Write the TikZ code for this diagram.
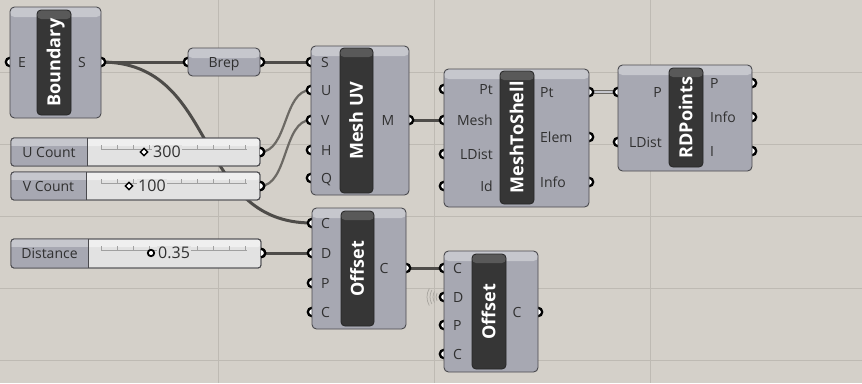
\documentclass[tikz,border=0pt]{standalone}
\usepackage{fontspec}
\newfontfamily\ghfont{Open Sans}
\usetikzlibrary{fit}
\definecolor{canvas}{HTML}{D4D0C9}
\definecolor{gridc}{HTML}{BEBAB3}
\definecolor{body}{HTML}{A7A8B2}
\definecolor{bodytop}{HTML}{C6C7CD}
\definecolor{boxline}{HTML}{4A4A4E}
\definecolor{barc}{HTML}{363636}
\definecolor{bartop}{HTML}{595959}
\definecolor{wirec}{HTML}{4E4C49}
\definecolor{wirel}{HTML}{6C6964}
\definecolor{sliderbody}{HTML}{E2E2E2}
\definecolor{tickc}{HTML}{A0A0A0}
\definecolor{ripplec}{HTML}{A8A59F}
\definecolor{lblc}{HTML}{303030}
\tikzset{
  compbox/.style={draw=boxline, line width=0.9pt, fill=body, rounded corners=4.5pt, inner sep=0pt,
    path picture={\fill[bodytop] (path picture bounding box.north west) rectangle ([yshift=-10pt]path picture bounding box.north east);}},
  sliderbox/.style={draw=boxline, line width=0.9pt, fill=sliderbody, rounded corners=3pt, inner sep=0pt,
    path picture={\fill[white,opacity=0.45] (path picture bounding box.north west) rectangle ([yshift=-8pt]path picture bounding box.north east);}},
  barbox/.style={draw=black!85, line width=0.8pt, fill=barc, rounded corners=4pt, inner sep=0pt,
    path picture={\fill[bartop] (path picture bounding box.north west) rectangle ([yshift=-9pt]path picture bounding box.north east);}},
  bartext/.style={font=\ghfont\bfseries\fontsize{18}{18}\selectfont, text=white, inner sep=0pt, text height=12.9pt, text depth=0pt},
  lbl/.style={font=\ghfont\fontsize{14}{14}\selectfont, text=lblc, inner sep=0pt, text height=10pt, text depth=0pt},
  valtext/.style={font=\ghfont\fontsize{16}{16}\selectfont, text=lblc, inner sep=1pt, text height=11.4pt, text depth=0pt, fill=sliderbody},
  port/.style={draw=black, fill=white, line width=2.3pt},
  wire/.style={draw=wirec, line width=3pt},
  wirethin/.style={draw=wirel, line width=2.2pt},
  wiredouble/.style={draw=wirel, line width=1.3pt, double=bodytop, double distance=1.6pt},
  track/.style={draw=tickc, line width=0.6pt},
  ripple/.style={draw=ripplec, line width=0.7pt}
}
\newcommand\ghbar[6]{%
  \node[barbox, fit={(#2,#3)(#4,#5)}] (#1) {};
  \node[bartext, rotate=90] at (#1.center) {#6};}
\newcommand\ghslider[7]{% name y1 y2 xlab label x2 ymid
  \node[sliderbox, fit={(11,#2)(#6,#3)}] (#1) {};
  \begin{scope}
    \clip[rounded corners=3pt] (11,#2) rectangle (#6,#3);
    \fill[body] (11,#2) rectangle (#4,#3);
    \fill[bodytop] (11,#2) rectangle (#4,#2+8);
  \end{scope}
  \draw[boxline, line width=0.9pt, rounded corners=3pt] (11,#2) rectangle (#6,#3);
  \draw[boxline, line width=0.8pt] (#4,#2) -- (#4,#3);
  \node[lbl] (#1-lbl) at ({(11+#4)/2},#7) {#5};
  \draw[track] (101,#7-3) -- (247,#7-3);
  \foreach \t in {101,117,...,247} \draw[track] (\t,#7-3) -- (\t,#7-7);}
\begin{document}
\begin{tikzpicture}[x=1pt,y=-1pt]
\fill[canvas] (0,0) rectangle (862,383);
\useasboundingbox (0,0) rectangle (862,383);
% grid
\foreach \y in {72,144,216,288,360} \draw[gridc, line width=1pt] (0,\y) -- (862,\y);
\foreach \x in {218,434,650} \draw[gridc, line width=1pt] (\x,0) -- (\x,383);
% port coordinates
\coordinate (bd-E) at (10,62); \coordinate (bd-S) at (101,62);
\coordinate (br-in) at (188,62); \coordinate (br-out) at (260,62);
\coordinate (mu-S) at (311,62); \coordinate (mu-U) at (311,90); \coordinate (mu-V) at (311,120);
\coordinate (mu-H) at (311,150); \coordinate (mu-Q) at (311,178); \coordinate (mu-M) at (409,120);
\coordinate (ms-Pt) at (444,89); \coordinate (ms-Mesh) at (444,120); \coordinate (ms-LDist) at (444,154);
\coordinate (ms-Id) at (444,186); \coordinate (ms-oPt) at (589,92); \coordinate (ms-Elem) at (589,137);
\coordinate (ms-Info) at (589,182);
\coordinate (rd-P) at (618,92); \coordinate (rd-LDist) at (618,142); \coordinate (rd-oP) at (752,83);
\coordinate (rd-Info) at (752,117); \coordinate (rd-I) at (752,151);
\coordinate (o1-C) at (312,223); \coordinate (o1-D) at (312,253); \coordinate (o1-P) at (312,283);
\coordinate (o1-C2) at (312,312); \coordinate (o1-out) at (406,268);
\coordinate (o2-C) at (444,268); \coordinate (o2-D) at (444,297); \coordinate (o2-P) at (444,325);
\coordinate (o2-C2) at (444,354); \coordinate (o2-out) at (538,312);
\coordinate (uc-out) at (260,152); \coordinate (vc-out) at (260,186); \coordinate (ds-out) at (261,253);
% wires
\draw[wire] (bd-S) .. controls +(120,0) and +(-120,0) .. (o1-C);
\draw[wire] (bd-S) -- (br-in);
\draw[wire] (br-out) -- (mu-S);
\draw[wirethin] (uc-out) .. controls +(28,0) and +(-28,0) .. (mu-U);
\draw[wirethin] (vc-out) .. controls +(28,0) and +(-28,0) .. (mu-V);
\draw[wire] (mu-M) -- (ms-Mesh);
\draw[wiredouble] (ms-oPt) -- (rd-P);
\draw[wire] (ds-out) -- (o1-D);
\draw[wire] (o1-out) -- (o2-C);
% ripple
\foreach \r in {8,11,14,17} \draw[ripple] ([shift={(150:\r pt)}]o2-D) arc[start angle=150,end angle=210,radius=\r pt];
% ports
\foreach \p in {bd-E,bd-S,br-in,br-out,mu-S,mu-U,mu-V,mu-H,mu-Q,mu-M,ms-Pt,ms-Mesh,ms-LDist,ms-Id,ms-oPt,ms-Elem,ms-Info,rd-P,rd-LDist,rd-oP,rd-Info,rd-I,o1-C,o1-D,o1-P,o1-C2,o1-out,o2-C,o2-D,o2-P,o2-C2,o2-out,uc-out,vc-out,ds-out}
  \draw[port] (\p) circle[radius=4.2pt];
% Boundary
\node[compbox, fit={(10,7)(101,118)}] (boundary) {};
\ghbar{boundary-bar}{37}{10}{71}{115}{Boundary}
\node[lbl] at (22,62) {E};
\node[lbl] at (82,62) {S};
% Brep
\node[compbox, fit={(188,48)(260,76)}] (brep) {};
\node[lbl] at (brep.center) {Brep};
% Mesh UV
\node[compbox, fit={(311,46)(409,195)}] (meshuv) {};
\ghbar{meshuv-bar}{340}{48}{373}{193}{Mesh UV}
\foreach \l/\y in {S/62,U/90,V/120,H/150,Q/178} \node[lbl, anchor=west] at (321,\y) {\l};
\node[lbl] at (388,120) {M};
% MeshToShell
\node[compbox, fit={(444,69)(589,207)}] (m2s) {};
\ghbar{m2s-bar}{500}{71}{534}{204}{MeshToShell}
\foreach \l/\y in {Pt/89,Mesh/120,LDist/154,Id/186} \node[lbl, anchor=east] at (493,\y) {\l};
\foreach \l/\y in {Pt/92,Elem/137,Info/182} \node[lbl, anchor=west] at (540,\y) {\l};
% RDPoints
\node[compbox, fit={(618,65)(752,171)}] (rdp) {};
\ghbar{rdp-bar}{669}{68}{703}{167}{RDPoints}
\foreach \l/\y in {P/92,LDist/142} \node[lbl, anchor=east] at (662,\y) {\l};
\foreach \l/\y in {P/83,Info/117,I/151} \node[lbl, anchor=west] at (710,\y) {\l};
% Offset 1
\node[compbox, fit={(312,208)(406,329)}] (off1) {};
\ghbar{off1-bar}{341}{211}{374}{326}{Offset}
\foreach \l/\y in {C/223,D/253,P/283,C/312} \node[lbl, anchor=west] at (321,\y) {\l};
\node[lbl] at (384,268) {C};
% Offset 2
\node[compbox, fit={(444,251)(538,372)}] (off2) {};
\ghbar{off2-bar}{472}{254}{506}{369}{Offset}
\foreach \l/\y in {C/268,D/297,P/325,C/354} \node[lbl, anchor=west] at (453,\y) {\l};
\node[lbl] at (517,312) {C};
% sliders
\ghslider{ucount}{138}{166}{87}{U Count}{260}{152}
\node[valtext, anchor=west] (ucount-val) at (152,152) {300};
\draw[line width=1.4pt, fill=white] (144,152) +(-3.6,0) -- +(0,-3.6) -- +(3.6,0) -- +(0,3.6) -- cycle;
\ghslider{vcount}{172}{200}{86}{V Count}{260}{186}
\node[valtext, anchor=west] (vcount-val) at (137,186) {100};
\draw[line width=1.4pt, fill=white] (129,186) +(-3.6,0) -- +(0,-3.6) -- +(3.6,0) -- +(0,3.6) -- cycle;
\ghslider{dist}{239}{268}{88}{Distance}{261}{253}
\node[valtext, anchor=west] (dist-val) at (157,253) {0.35};
\draw[line width=1.8pt, fill=white] (151,253) circle[radius=3.2pt];
% slider output ports on top
\foreach \p in {uc-out,vc-out,ds-out} \draw[port] (\p) ++(0,-4.2) arc[start angle=90,end angle=-90,radius=4.2pt];
\end{tikzpicture}
\end{document}
